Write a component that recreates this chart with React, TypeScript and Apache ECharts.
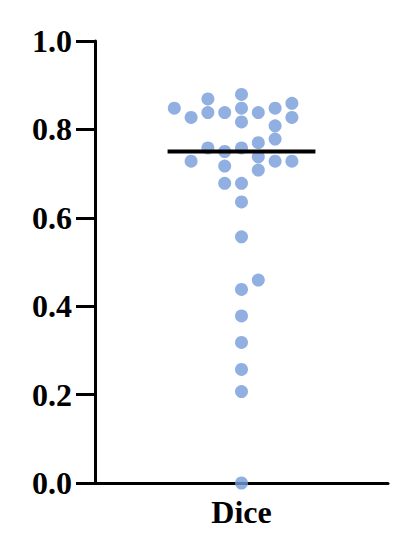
import React, { useEffect, useRef } from "react";
import * as echarts from "echarts";

// horizontal jitter column (units of one dot width) and Dice value of each dot
const dotColumns = [-4, -3, -2, -2, -1, 0, 0, 0, 1, 2, 3, 3, 2, 2, 1, -2, -1, 0, -3, -1, 1, 1, 2, 3, -1, 0, 0, 0, 1, 0, 0, 0, 0, 0, 0];
const diceValues = [0.848, 0.827, 0.869, 0.838, 0.838, 0.879, 0.848, 0.817, 0.838, 0.848, 0.859, 0.827, 0.808, 0.778, 0.77, 0.758, 0.75, 0.758, 0.728, 0.717, 0.738, 0.708, 0.728, 0.728, 0.678, 0.678, 0.636, 0.557, 0.459, 0.438, 0.378, 0.318, 0.257, 0.207, 0.0];
const meanValue = 0.75;
const meanHalfWidth = 4.4;
const categoryName = "Dice";

export default function App() {
  const ref = useRef<HTMLDivElement>(null);
  useEffect(() => {
    if (!ref.current) return;
    const chart = echarts.init(ref.current, undefined, { renderer: "svg" });
    const font = "'Liberation Serif', 'Times New Roman', serif";
    chart.setOption({
      animation: false,
      backgroundColor: "#ffffff",
      grid: { left: 95, right: 29, top: 41, bottom: 67, containLabel: false },
      xAxis: {
        type: "value",
        min: -8.72,
        max: 8.72,
        axisLine: { show: true, onZero: false, lineStyle: { color: "#000", width: 3 } },
        axisTick: { show: false },
        axisLabel: { show: false },
        splitLine: { show: false },
        name: categoryName,
        nameLocation: "middle",
        nameGap: 13,
        nameTextStyle: { fontFamily: font, fontWeight: "bold", fontSize: 32, color: "#000", verticalAlign: "top" },
      },
      yAxis: {
        type: "value",
        min: 0,
        max: 1,
        interval: 0.2,
        axisLine: { show: true, onZero: false, lineStyle: { color: "#000", width: 3 } },
        axisTick: { show: true, length: 19, lineStyle: { color: "#000", width: 3 } },
        axisLabel: {
          margin: 23,
          fontFamily: font,
          fontWeight: "bold",
          fontSize: 32,
          color: "#000",
          formatter: (v: number) => v.toFixed(1),
        },
        splitLine: { show: false },
      },
      series: [
        {
          type: "scatter",
          symbol: "circle",
          symbolSize: 13,
          itemStyle: { color: "#769cd9" },
          data: diceValues.map((v, i) => [dotColumns[i], v]),
          z: 2,
        },
        {
          type: "line",
          symbol: "none",
          lineStyle: { color: "#000", width: 4 },
          data: [
            [-meanHalfWidth, meanValue],
            [meanHalfWidth, meanValue],
          ],
          z: 3,
        },
      ],
    });
    return () => chart.dispose();
  }, []);
  return (
    <div
      ref={ref}
      style={{ position: "fixed", left: 0, top: 0, width: 417, height: 550 }}
    />
  );
}
